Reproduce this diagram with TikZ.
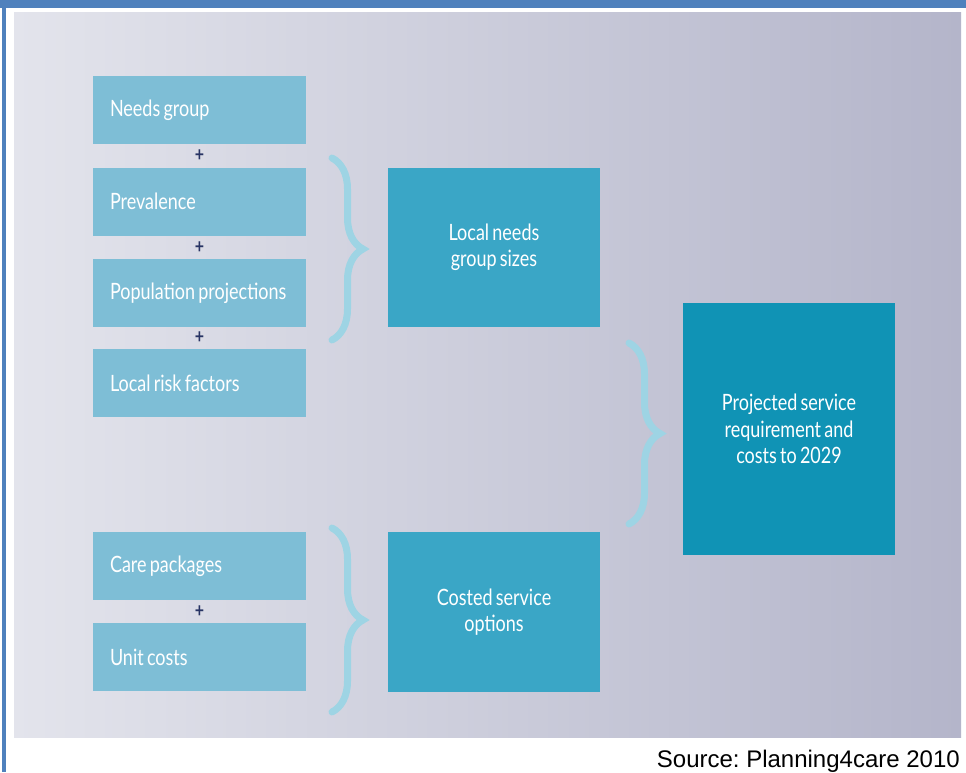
\documentclass[tikz,border=0pt]{standalone}
\usepackage{fontspec}
\usepackage{tikz}
\usetikzlibrary{decorations.pathreplacing}
\newfontfamily\boxfont[FakeStretch=0.8,WordSpace=0.7]{Lato}
\newfontfamily\srcfont{Liberation Sans}
\frenchspacing
\definecolor{FrameBlue}{RGB}{79,129,189}
\definecolor{PaleBox}{RGB}{126,190,214}
\definecolor{MidBox}{RGB}{58,166,198}
\definecolor{DeepBox}{RGB}{16,147,181}
\definecolor{BraceBlue}{RGB}{158,212,228}
\definecolor{PlusNavy}{RGB}{40,52,100}
\definecolor{BgLight}{RGB}{227,228,236}
\definecolor{BgMid}{RGB}{214,215,228}
\definecolor{BgDark}{RGB}{180,181,202}

\begin{document}
\begin{tikzpicture}[x=1pt,y=-1pt,
    inbox/.style={fill=PaleBox,text=white,font=\boxfont\fontsize{22.5}{26}\selectfont,
        text width=179pt,inner xsep=17pt,inner ysep=0pt,minimum height=68pt,align=flush left},
    sumbox/.style={fill=MidBox,text=white,font=\boxfont\fontsize{22.5}{26.5}\selectfont,
        text width=200pt,inner xsep=6pt,inner ysep=0pt,align=flush center},
    plus/.style={text=PlusNavy,font=\boxfont\bfseries\fontsize{20}{20}\selectfont,inner sep=0pt},
    curly/.style={draw=BraceBlue,line width=7pt,line cap=round,decorate,
        decoration={brace,amplitude=31pt}}]
    % frame and background
    \fill[white] (0,0) rectangle (966,772);
    \fill[FrameBlue] (0,0) rectangle (966,8);
    \fill[FrameBlue] (2,0) rectangle (6,772);
    \shade[left color=BgLight,middle color=BgMid,right color=BgDark] (14,12) rectangle (961,737);

    % input boxes
    \node[inbox] (needs) at (199.5,110) {Needs group};
    \node[inbox] (prev) at (199.5,201.5) {Prevalence};
    \node[inbox] (pop) at (199.5,293) {Population projections};
    \node[inbox] (risk) at (199.5,383) {Local risk factors};
    \node[inbox] (care) at (199.5,566) {Care packages};
    \node[inbox] (unit) at (199.5,657) {Unit costs};

    \node[plus] (p1) at (199.5,155.5) {+};
    \node[plus] (p2) at (199.5,247.5) {+};
    \node[plus] (p3) at (199.5,338) {+};
    \node[plus] (p4) at (199.5,612) {+};

    % result boxes
    \node[sumbox,minimum height=159pt] (local) at (494,247.5) {Local needs\\group sizes};
    \node[sumbox,minimum height=160pt] (costed) at (494,612) {Costed service\\options};
    \node[sumbox,fill=DeepBox,minimum height=252pt] (proj) at (789,429)
        {Projected service\\requirement and\\costs to 2029};

    % braces
    \coordinate (b1s) at (332,158);
    \coordinate (b1e) at (332,340);
    \coordinate (b2s) at (629,343);
    \coordinate (b2e) at (629,524);
    \coordinate (b3s) at (332,528);
    \coordinate (b3e) at (332,712);
    \draw[curly] (b1s) -- (b1e);
    \draw[curly] (b2s) -- (b2e);
    \draw[curly] (b3s) -- (b3e);

    \node[anchor=base east,inner sep=0pt,font=\srcfont\fontsize{24}{24}\selectfont] (src) at (960,767)
        {Source: Planning4care 2010};
\end{tikzpicture}
\end{document}
